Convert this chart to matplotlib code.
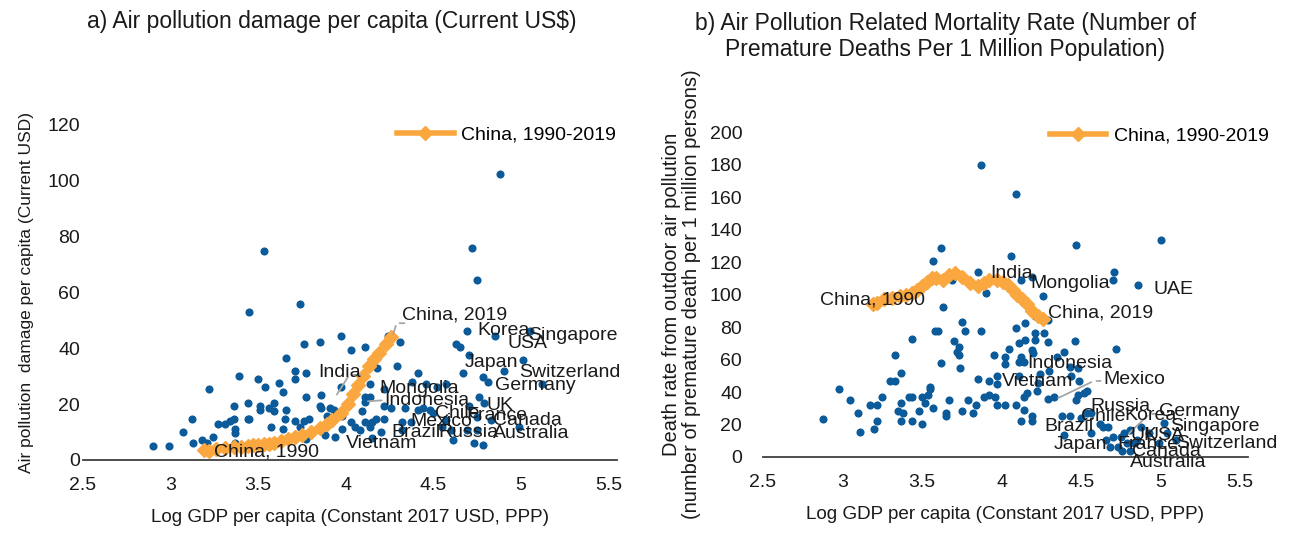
import matplotlib
matplotlib.use("Agg")
import matplotlib.pyplot as plt

plt.rcParams['font.family'] = ['Liberation Sans', 'DejaVu Sans']

# ---- data: panel a) damage per capita vs log GDP per capita
dmg_x = [2.90, 2.99, 3.07, 3.12, 3.13, 3.18, 3.21, 3.24, 3.22, 3.27, 3.31, 3.34, 3.36, 3.37,
         3.37, 3.37, 3.36, 3.39, 3.44, 3.44, 3.45, 3.50, 3.51, 3.51, 3.54, 3.56, 3.59, 3.59,
         3.57, 3.62, 3.64, 3.64, 3.65, 3.66, 3.66, 3.71, 3.71, 3.71, 3.76, 3.77, 3.77, 3.76,
         3.74, 3.79, 3.77, 3.85, 3.86, 3.85, 3.86, 3.89, 3.91, 3.88, 3.94, 3.97, 3.97, 3.98,
         3.98, 3.93, 3.53, 3.45, 3.74, 4.88, 4.72, 4.75, 4.11, 4.03, 4.24, 4.31, 4.15, 4.18,
         4.29, 4.41, 4.38, 4.14, 4.22, 4.46, 4.52, 4.57, 4.11, 4.11, 4.14, 4.09, 4.22, 4.26,
         4.34, 4.41, 4.44, 4.48, 4.50, 4.03, 4.11, 4.15, 4.22, 4.32, 4.37, 4.17, 4.05, 4.08,
         4.14, 4.20, 4.32, 4.15, 4.55, 4.57, 4.60, 4.61, 4.63, 4.65, 4.69, 4.70, 4.67, 4.78,
         4.81, 4.70, 4.75, 4.76, 4.79, 4.73, 4.78, 4.69, 4.75, 4.83, 4.85, 4.90, 5.01, 5.05,
         4.99, 5.12]
dmg_y = [5.1, 5.1, 9.9, 14.8, 6.1, 7.3, 6.1, 8.1, 25.3, 12.8, 12.8, 14.0, 14.6, 11.1,
         9.8, 6.0, 19.4, 30.0, 20.5, 14.8, 14.8, 29.0, 19.5, 17.9, 26.2, 18.6, 20.5, 17.6,
         11.8, 27.4, 24.3, 11.0, 14.8, 17.9, 36.7, 29.0, 13.8, 31.9, 41.4, 31.0, 22.4, 13.8,
         11.9, 14.8, 7.4, 42.4, 23.3, 19.5, 18.6, 15.7, 18.6, 9.0, 8.1, 44.3, 26.2, 15.7,
         11.0, 17.9, 74.8, 53.0, 55.7, 102.4, 75.8, 64.3, 40.5, 39.5, 44.3, 42.3, 34.8, 32.8,
         33.8, 31.0, 28.1, 27.1, 25.3, 27.1, 26.2, 27.1, 22.4, 20.8, 22.6, 17.6, 19.5, 18.6,
         18.6, 17.9, 18.6, 17.9, 16.7, 13.7, 13.7, 13.7, 14.8, 13.7, 13.7, 14.8, 11.9, 10.7,
         11.9, 9.9, 10.7, 7.8, 11.7, 14.3, 10.7, 7.1, 41.4, 40.5, 46.2, 37.6, 31.0, 29.8,
         28.1, 19.5, 15.5, 22.4, 20.3, 6.0, 5.3, 10.7, 10.7, 14.3, 44.3, 31.9, 35.7, 46.2,
         11.7, 27.1]

# ---- data: panel b) mortality rate vs log GDP per capita
mort_x = [2.88, 2.98, 3.05, 3.10, 3.11, 3.17, 3.20, 3.22, 3.22, 3.25, 3.30, 3.33, 3.33, 3.35,
          3.37, 3.37, 3.37, 3.38, 3.42, 3.44, 3.44, 3.44, 3.48, 3.50, 3.50, 3.52, 3.54, 3.55,
          3.55, 3.57, 3.57, 3.58, 3.60, 3.62, 3.62, 3.63, 3.65, 3.65, 3.67, 3.69, 3.70, 3.72,
          3.73, 3.73, 3.74, 3.75, 3.75, 3.77, 3.79, 3.82, 3.84, 3.85, 3.85, 3.87, 3.87, 3.89,
          3.90, 3.92, 3.92, 3.95, 3.96, 3.97, 3.97, 3.97, 4.02, 4.02, 4.02, 4.05, 4.06, 4.09,
          4.09, 4.09, 4.11, 4.11, 4.11, 4.12, 4.12, 4.12, 4.14, 4.14, 4.14, 4.15, 4.15, 4.16,
          4.19, 4.19, 4.19, 4.19, 4.20, 4.21, 4.21, 4.21, 4.22, 4.23, 4.24, 4.26, 4.27, 4.29,
          4.29, 4.29, 4.30, 4.33, 4.35, 4.38, 4.39, 4.39, 4.43, 4.43, 4.44, 4.46, 4.47, 4.47,
          4.48, 4.48, 4.49, 4.50, 4.52, 4.54, 4.54, 4.56, 4.56, 4.62, 4.64, 4.66, 4.67, 4.68,
          4.70, 4.70, 4.71, 4.72, 4.73, 4.75, 4.76, 4.77, 4.79, 4.81, 4.81, 4.83, 4.85, 4.86,
          4.88, 4.93, 4.99, 5.00, 5.02, 5.04, 5.10]
mort_y = [23.6, 41.7, 35.1, 26.9, 15.4, 31.8, 17.0, 22.0, 31.8, 36.7, 46.6, 46.6, 62.8, 28.5,
          33.4, 51.5, 22.0, 26.9, 36.7, 36.7, 72.8, 22.0, 28.5, 36.7, 20.3, 33.4, 38.3, 43.3,
          41.7, 30.2, 120.4, 77.7, 77.7, 128.8, 58.0, 92.5, 26.9, 25.2, 35.1, 108.9, 71.4, 64.6,
          67.9, 62.8, 54.8, 82.9, 28.5, 77.7, 35.1, 26.9, 31.8, 113.8, 48.2, 77.7, 179.5, 36.7,
          100.7, 46.6, 38.3, 62.8, 36.7, 49.8, 44.9, 31.8, 61.7, 57.2, 31.8, 66.3, 123.7, 161.7,
          79.4, 31.8, 70.0, 58.5, 49.8, 108.9, 61.3, 22.3, 58.5, 37.1, 28.9, 82.6, 72.0, 39.6,
          110.6, 65.8, 25.2, 22.3, 63.8, 86.8, 76.1, 72.0, 40.8, 45.3, 51.1, 99.1, 76.1, 84.3,
          71.0, 35.5, 53.1, 37.1, 61.3, 25.2, 64.8, 13.7, 55.6, 25.2, 49.8, 71.6, 130.3, 35.1,
          54.6, 38.1, 46.6, 23.8, 39.6, 40.8, 26.9, 26.9, 14.6, 20.3, 18.6, 10.5, 18.6, 6.3,
          12.1, 108.9, 113.8, 66.3, 6.3, 12.1, 3.9, 14.6, 8.4, 3.9, 16.6, 8.4, 10.5, 105.6,
          18.6, 14.6, 8.4, 133.5, 20.7, 14.6, 10.5]

# ---- China 1990-2019
china_x = [3.19, 3.22, 3.26, 3.31, 3.36, 3.40, 3.44, 3.47, 3.50, 3.53, 3.56, 3.59, 3.63, 3.67,
           3.71, 3.75, 3.80, 3.85, 3.89, 3.92, 3.97, 4.01, 4.04, 4.07, 4.10, 4.13, 4.16, 4.19,
           4.23, 4.26]
china_dmg = [3.5, 3.3, 3.8, 4.2, 4.5, 4.8, 5.0, 5.2, 5.4, 5.6, 5.9, 6.2, 6.8, 7.5,
             8.2, 9.0, 10.2, 11.5, 13.0, 14.5, 17.0, 20.0, 23.5, 27.0, 30.0, 33.5, 36.0, 38.5,
             41.5, 44.0]
china_mort = [94, 95, 97, 98, 99, 100, 101, 103, 105, 108, 110, 110, 109, 112,
              113, 111, 107, 105, 107, 109, 109, 108, 106, 103, 100, 97, 94, 90,
              87, 85]

# country labels: (text, x, y) in data units
labels_a = [("China, 2019", 4.32, 52.0), ("Korea", 4.75, 46.4), ("Singapore", 5.04, 44.6),
            ("USA", 4.92, 41.8), ("Japan", 4.68, 35.0), ("Switzerland", 4.99, 31.4),
            ("Germany", 4.85, 26.8), ("India", 3.84, 31.4), ("Mongolia", 4.19, 25.7),
            ("Indonesia", 4.22, 21.4), ("UK", 4.80, 19.6), ("Chile", 4.51, 16.8),
            ("France", 4.69, 16.0), ("Mexico", 4.37, 13.9), ("Canada", 4.84, 14.3),
            ("Brazil", 4.26, 10.0), ("Russia", 4.53, 10.0), ("Australia", 4.84, 9.6),
            ("Vietnam", 4.00, 6.0), ("China, 1990", 3.25, 2.9)]
labels_b = [("China, 1990", 2.86, 96.6), ("India", 3.93, 113.0), ("Mongolia", 4.18, 106.9),
            ("UAE", 4.955, 103.2), ("China, 2019", 4.29, 88.4), ("Indonesia", 4.16, 57.6),
            ("Vietnam", 4.00, 46.4), ("Mexico", 4.64, 47.4), ("Russia", 4.56, 31.0),
            ("Chile", 4.50, 24.8), ("Korea", 4.77, 25.8), ("Germany", 4.99, 27.9),
            ("Brazil", 4.27, 19.0), ("Singapore", 5.06, 18.5), ("UK", 4.81, 13.5),
            ("USA", 4.90, 13.5), ("Japan", 4.33, 7.4), ("France", 4.73, 7.4),
            ("Switzerland", 5.10, 8.0), ("Canada", 4.82, 3.3), ("Australia", 4.81, -3.3)]

x_ticks = [2.5, 3, 3.5, 4, 4.5, 5, 5.5]
x_ticklabels = ["2.5", "3", "3.5", "4", "4.5", "5", "5.5"]

blue = "#0b5a99"
orange = "#f9a73e"
leader = "#a6a6a6"
ink = "#1a1a1a"
fs = 14

fig = plt.figure(figsize=(12.91, 5.33), dpi=100)
ax1 = fig.add_axes([0.0643, 0.137, 0.414, 0.6285])
ax2 = fig.add_axes([0.591, 0.1426, 0.3757, 0.6097])


def style(ax, ymax, ystep, ypad):
    ax.set_xlim(2.5, 5.55)
    ax.set_ylim(0, ymax)
    ax.set_xticks(x_ticks)
    ax.set_xticklabels(x_ticklabels)
    ax.set_yticks(range(0, ymax + 1, ystep))
    for s in ["top", "right", "left"]:
        ax.spines[s].set_visible(False)
    ax.spines["bottom"].set_color("#404040")
    ax.spines["bottom"].set_linewidth(1.3)
    ax.tick_params(length=0, labelsize=fs, colors=ink)
    ax.tick_params(axis="x", pad=12)
    ax.tick_params(axis="y", pad=ypad)
    ax.set_xlabel("Log GDP per capita (Constant 2017 USD, PPP)", fontsize=13.6,
                  labelpad=11, color=ink)


# panel a
ax1.scatter(dmg_x, dmg_y, s=34, color=blue, zorder=2, linewidths=0)
ax1.plot(china_x, china_dmg, color=orange, lw=4, marker="D", ms=7, mec=orange,
         zorder=3, label="China, 1990-2019")
style(ax1, 120, 20, 2)
ax1.set_ylabel("Air pollution  damage per capita (Current USD)", fontsize=12.5,
               color=ink, labelpad=10)
for t, x, y in labels_a:
    ax1.text(x, y, t, fontsize=fs, va="center", ha="left", color=ink, zorder=4)
ax1.annotate("", xy=(4.265, 44.2), xytext=(4.29, 49),
             arrowprops=dict(arrowstyle="-", color=leader, lw=1.3))
ax1.annotate("", xy=(4.29, 49), xytext=(4.35, 49),
             arrowprops=dict(arrowstyle="-", color=leader, lw=1.3))
ax1.annotate("", xy=(3.94, 22.6), xytext=(4.02, 30.5),
             arrowprops=dict(arrowstyle="-", color=leader, lw=1.3))
ax1.annotate("", xy=(4.02, 30.5), xytext=(4.1, 30.5),
             arrowprops=dict(arrowstyle="-", color=leader, lw=1.3))
ax1.annotate("", xy=(4.11, 21.0), xytext=(4.22, 21.4),
             arrowprops=dict(arrowstyle="-", color=leader, lw=1.3))
ax1.legend(loc="upper left", bbox_to_anchor=(0.555, 1.05), frameon=False,
           fontsize=fs, handlelength=2.9, handletextpad=0.4)

# panel b
ax2.scatter(mort_x, mort_y, s=34, color=blue, zorder=2, linewidths=0)
ax2.plot(china_x, china_mort, color=orange, lw=4, marker="D", ms=7, mec=orange,
         zorder=3, label="China, 1990-2019")
style(ax2, 200, 20, 15)
ax2.set_ylabel("Death rate from outdoor air pollution\n"
               "(number of premature death per 1 million persons)", fontsize=14.5,
               color=ink, labelpad=6, linespacing=1.1)
for t, x, y in labels_b:
    ax2.text(x, y, t, fontsize=fs, va="center", ha="left", color=ink, zorder=4)
ax2.annotate("", xy=(4.34, 35.5), xytext=(4.58, 46.8),
             arrowprops=dict(arrowstyle="-", color=leader, lw=1.3))
ax2.annotate("", xy=(4.58, 46.8), xytext=(4.64, 46.8),
             arrowprops=dict(arrowstyle="-", color=leader, lw=1.3))
ax2.annotate("", xy=(4.79, 13.5), xytext=(4.93, 26.5),
             arrowprops=dict(arrowstyle="-", color=leader, lw=1.3))
ax2.annotate("", xy=(4.93, 26.5), xytext=(4.99, 26.5),
             arrowprops=dict(arrowstyle="-", color=leader, lw=1.3))
ax2.legend(loc="upper left", bbox_to_anchor=(0.555, 1.07), frameon=False,
           fontsize=fs, handlelength=2.9, handletextpad=0.4)

fig.text(0.257, 0.959, "a) Air pollution damage per capita (Current US$)",
         ha="center", va="center", fontsize=16.5, color=ink)
fig.text(0.732, 0.932, "b) Air Pollution Related Mortality Rate (Number of\n"
         "Premature Deaths Per 1 Million Population)",
         ha="center", va="center", fontsize=16.5, color=ink, linespacing=1.15)

fig.savefig("out.png", dpi=100)
